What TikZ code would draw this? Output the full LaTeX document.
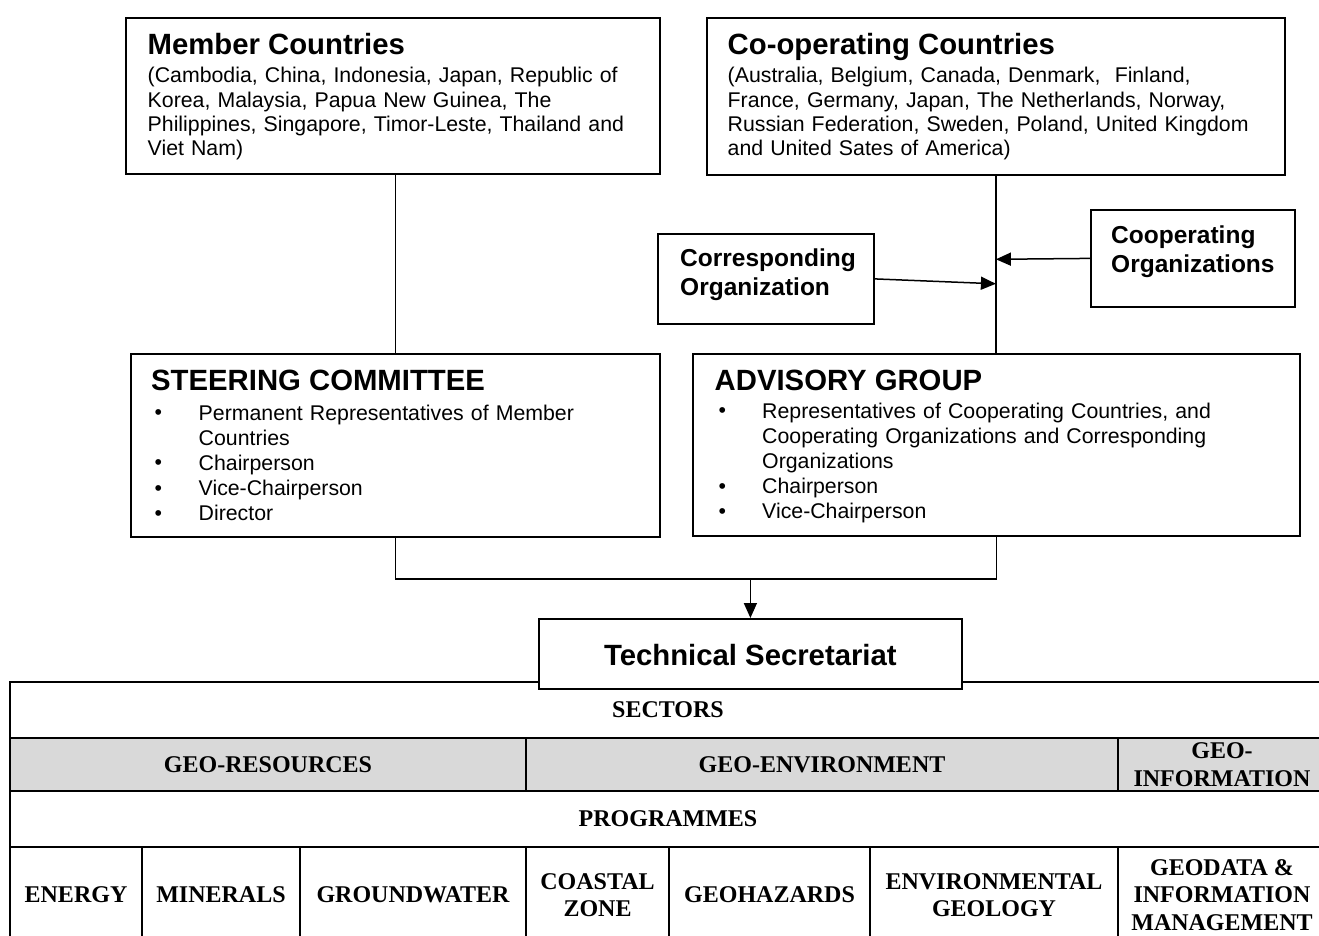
\documentclass[tikz,border=0pt]{standalone}
\usepackage{fontspec}
\setmainfont{Liberation Sans}
\newfontfamily\tabfont{Liberation Serif}
\usetikzlibrary{arrows.meta,calc}
\newcommand\bitem[1]{\makebox[#1][l]{\hspace{3.5pt}\raisebox{0.5pt}{\textbullet}}}
\begin{document}
\begin{tikzpicture}[x=1pt,y=-1pt,
  box/.style={draw,line width=1.8pt,fill=white,inner sep=0pt,anchor=north west},
  head/.style={anchor=base west,inner sep=0pt,font=\bfseries\fontsize{29.3}{32}\selectfont},
  body/.style={anchor=base west,inner sep=0pt,text width=590pt,align=left,font=\fontsize{21.3}{24.2}\selectfont},
  blist/.style={anchor=base west,inner sep=0pt,text width=590pt,align=left,font=\fontsize{21.3}{25.2}\selectfont},
  orgtext/.style={anchor=base west,inner sep=0pt,text width=220pt,align=left,font=\bfseries\fontsize{24.5}{29}\selectfont},
  conn/.style={line width=1.5pt},
  tip/.style={-{Triangle[length=15pt,width=13pt]}},
  grid/.style={line width=2pt},
  cell/.style={inner sep=0pt,align=center,font=\tabfont\bfseries\fontsize{24}{27.5}\selectfont},
]
\useasboundingbox (0,0) rectangle (1319,936);
\clip (0,0) rectangle (1319,936);

% ---------- upper boxes ----------
\node[box,minimum width=534pt,minimum height=156pt] (mem) at (125,17) {};
\node[head] (memh) at (147.5,55) {Member Countries};
\node[body] (memb) at (147.5,83) {(Cambodia, China, Indonesia, Japan, Republic of\\
Korea, Malaysia, Papua New Guinea, The\\
Philippines, Singapore, Timor-Leste, Thailand and\\
Viet Nam)};

\node[box,minimum width=578pt,minimum height=157pt] (coop) at (706,17) {};
\node[head] (cooph) at (727.5,55) {Co-operating Countries};
\node[body] (coopb) at (727.5,83) {(Australia, Belgium, Canada, Denmark,\ \ Finland,\\
France, Germany, Japan, The Netherlands, Norway,\\
Russian Federation, Sweden, Poland, United Kingdom\\
and United Sates of America)};

\node[box,minimum width=216pt,minimum height=90pt] (corr) at (657,233) {};
\node[orgtext] (corrt) at (680,266) {Corresponding\\Organization};

\node[box,minimum width=204pt,minimum height=97pt] (corg) at (1090,209) {};
\node[orgtext] (corgt) at (1111,243) {Cooperating\\Organizations};

\node[box,minimum width=529pt,minimum height=183pt] (steer) at (130,353) {};
\node[head] (steerh) at (151,390) {STEERING COMMITTEE};
\node[blist] (steerb) at (151,420) {%
\bitem{47.5pt}Permanent Representatives of Member\\
\hspace*{47.5pt}Countries\\
\bitem{47.5pt}Chairperson\\
\bitem{47.5pt}Vice-Chairperson\\
\bitem{47.5pt}Director};

\node[box,minimum width=607pt,minimum height=182pt] (adv) at (692,353) {};
\node[head] (advh) at (714.5,390) {ADVISORY GROUP};
\node[blist] (advb) at (715,418) {%
\bitem{47pt}Representatives of Cooperating Countries, and\\
\hspace*{47pt}Cooperating Organizations and Corresponding\\
\hspace*{47pt}Organizations\\
\bitem{47pt}Chairperson\\
\bitem{47pt}Vice-Chairperson};

% ---------- connectors ----------
\draw[conn] (mem.south -| steer.north) -- (steer.north);
\draw[conn] (coop.south) -- (coop.south |- adv.north);
\coordinate (jcorg) at ($(coop.south)+(0,83.5)$);
\coordinate (jcorr) at ($(coop.south)+(0,108)$);
\draw[conn,tip] (corg.west) -- (jcorg);
\draw[conn,tip] (corr.east) -- (jcorr);
\coordinate (bend) at ($(steer.south)+(0,41)$);
\coordinate (drop) at (bend -| adv.south);

% ---------- sectors and programmes table ----------
\fill[gray!30] (10,738) rectangle (1327,791);
\draw[grid] (1327,682) -- (10,682) -- (10,945);
\draw[grid] (10,738) -- (1327,738);
\draw[grid] (10,791) -- (1327,791);
\draw[grid] (10,847) -- (1327,847);
\foreach \cx in {526,1118} \draw[grid] (\cx,738) -- (\cx,791);
\foreach \cx in {142,300,526,669,870,1118} \draw[grid] (\cx,847) -- (\cx,945);

\node[cell] (sect) at (668,710) {SECTORS};
\node[cell] (gres) at (268,764.5) {GEO-RESOURCES};
\node[cell] (genv) at (822,764.5) {GEO-ENVIRONMENT};
\node[cell] (ginf) at (1222,764.5) {GEO-\\INFORMATION};
\node[cell] (prog) at (668,819) {PROGRAMMES};
\node[cell] (p1) at (76,895) {ENERGY};
\node[cell] (p2) at (221,895) {MINERALS};
\node[cell] (p3) at (413,895) {GROUNDWATER};
\node[cell] (p4) at (597.5,895) {COASTAL\\ZONE};
\node[cell] (p5) at (769.5,895) {GEOHAZARDS};
\node[cell] (p6) at (994,895) {ENVIRONMENTAL\\GEOLOGY};
\node[cell] (p7) at (1222,895) {GEODATA \&\\INFORMATION\\MANAGEMENT};

% ---------- technical secretariat ----------
\node[box,minimum width=423pt,minimum height=70pt] (tech) at (538,618) {};
\node[anchor=base,inner sep=0pt,font=\bfseries\fontsize{29.3}{32}\selectfont] (techt) at ($(tech.north)+(0,47)$) {Technical Secretariat};

\draw[conn] (steer.south) -- (bend) -- (drop) -- (adv.south);
\draw[conn,tip] (tech.north |- bend) -- (tech.north);
\end{tikzpicture}
\end{document}
